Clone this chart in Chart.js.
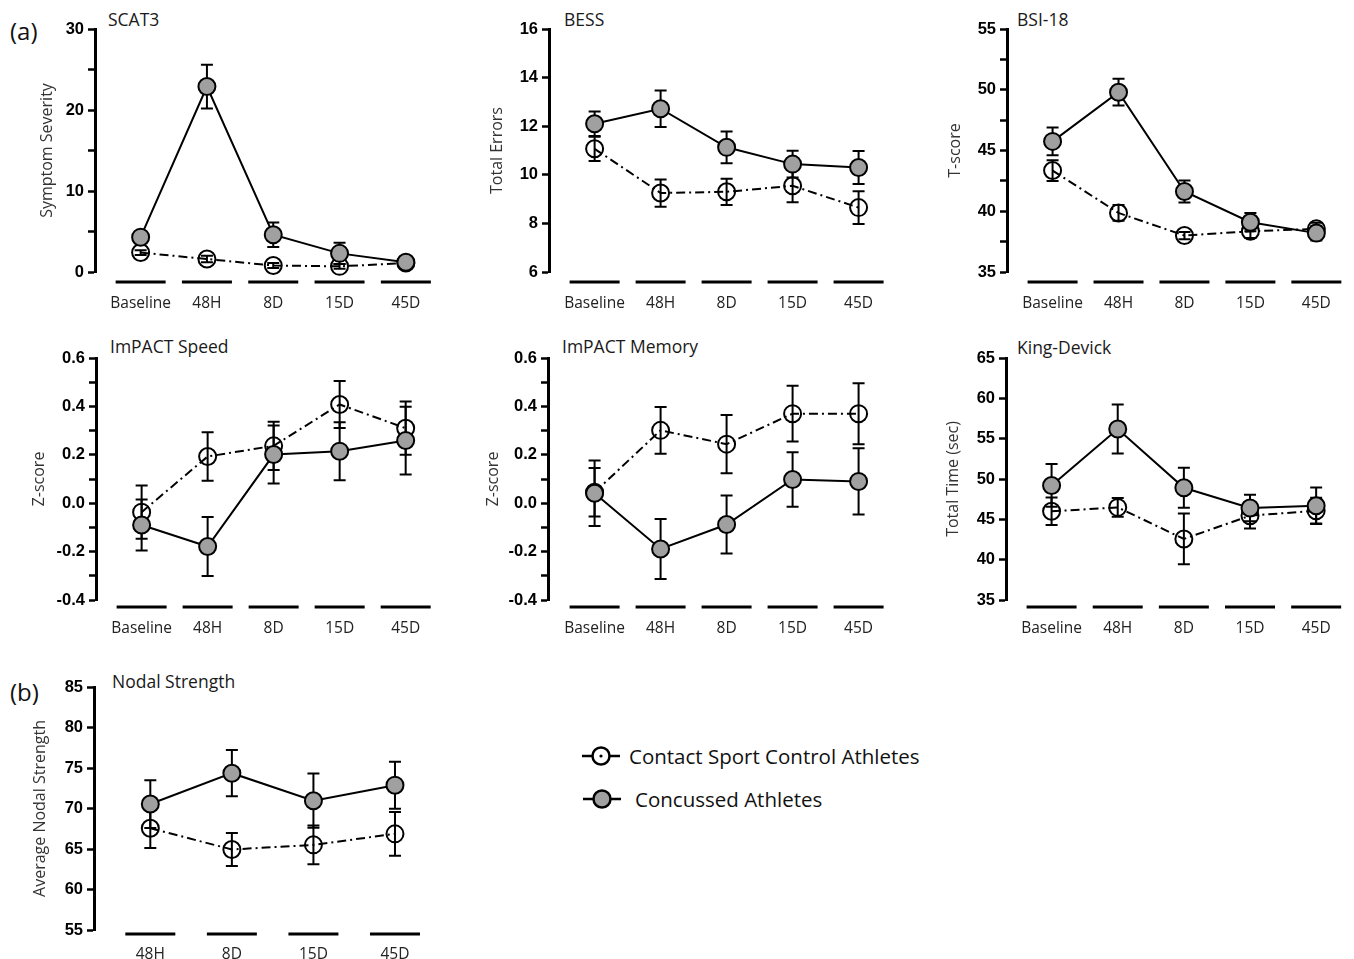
<!DOCTYPE html>
<html lang="en">
<head>
    <meta charset="UTF-8">
    <title>Concussion outcome measures</title>
    <script src="https://cdn.jsdelivr.net/npm/chart.js"></script>
    <style>
        body {
            margin: 0;
            background: #fff;
            font-family: 'Open Sans', sans-serif;
        }
        #figure {
            position: relative;
            width: 1354px;
            height: 959px;
            overflow: hidden;
        }
        #figure canvas {
            position: absolute;
        }
        .panel-title {
            position: absolute;
            font-size: 17.5px;
            color: #1a1a1a;
            line-height: 1;
            white-space: nowrap;
        }
        .part-label {
            position: absolute;
            font-size: 24px;
            color: #111;
            line-height: 1;
        }
        .legend-row {
            position: absolute;
            display: flex;
            align-items: center;
            font-size: 20.5px;
            color: #111;
            white-space: nowrap;
        }
        .legend-row svg {
            margin-right: 8px;
        }
    </style>
</head>
<body>
<div id="figure">
    <div class="part-label" style="left:10px; top:19px;">(a)</div>
    <div class="part-label" style="left:10px; top:680px;">(b)</div>

    <div class="panel-title" style="left:108px; top:11px;">SCAT3</div>
    <div class="panel-title" style="left:564px; top:11px;">BESS</div>
    <div class="panel-title" style="left:1017px; top:11px;">BSI-18</div>
    <div class="panel-title" style="left:110px; top:338px;">ImPACT Speed</div>
    <div class="panel-title" style="left:562px; top:338px;">ImPACT Memory</div>
    <div class="panel-title" style="left:1017px; top:339px;">King-Devick</div>
    <div class="panel-title" style="left:112px; top:673px;">Nodal Strength</div>

    <div class="legend-row" style="left:581px; top:742px;">
        <svg width="40" height="24" viewBox="0 0 40 24">
            <line x1="1" y1="12" x2="11" y2="12" stroke="#000" stroke-width="2.5"/>
            <line x1="29" y1="12" x2="39" y2="12" stroke="#000" stroke-width="2.5"/>
            <circle cx="20" cy="12" r="1.6" fill="#000"/>
            <circle cx="20" cy="12" r="8.5" fill="none" stroke="#000" stroke-width="2.5"/>
        </svg>
        <span>Contact Sport Control Athletes</span>
    </div>
    <div class="legend-row" style="left:582px; top:785px;">
        <svg width="40" height="24" viewBox="0 0 40 24">
            <line x1="1" y1="12" x2="39" y2="12" stroke="#000" stroke-width="2.5"/>
            <circle cx="20" cy="12" r="8.5" fill="#a0a0a0" stroke="#000" stroke-width="2.5"/>
        </svg>
        <span style="margin-left:5px;">Concussed Athletes</span>
    </div>
</div>

<script>
    // categories
    const timepoints = ['Baseline', '48H', '8D', '15D', '45D'];
    const nodalTimepoints = ['48H', '8D', '15D', '45D'];

    // SCAT3 symptom severity
    const scat3Control = [2.4, 1.6, 0.8, 0.7, 1.1];
    const scat3ControlErr = [0.3, 0.4, 0.3, 0.3, 0.2];
    const scat3Concussed = [4.3, 22.9, 4.6, 2.3, 1.2];
    const scat3ConcussedErr = [0.5, 2.7, 1.5, 1.3, 0.3];

    // BESS total errors
    const bessControl = [11.07, 9.25, 9.3, 9.55, 8.65];
    const bessControlErr = [0.5, 0.56, 0.54, 0.68, 0.67];
    const bessConcussed = [12.1, 12.72, 11.13, 10.44, 10.3];
    const bessConcussedErr = [0.5, 0.75, 0.65, 0.55, 0.68];

    // BSI-18 T-score
    const bsiControl = [43.35, 39.86, 38.0, 38.35, 38.55];
    const bsiControlErr = [0.85, 0.65, 0.3, 0.55, 0.5];
    const bsiConcussed = [45.75, 49.8, 41.63, 39.1, 38.2];
    const bsiConcussedErr = [1.15, 1.1, 0.9, 0.75, 0.6];

    // ImPACT speed z-score
    const speedControl = [-0.037, 0.193, 0.237, 0.408, 0.31];
    const speedControlErr = [0.11, 0.1, 0.1, 0.097, 0.11];
    const speedConcussed = [-0.09, -0.179, 0.201, 0.215, 0.259];
    const speedConcussedErr = [0.105, 0.122, 0.12, 0.12, 0.14];

    // ImPACT memory z-score
    const memoryControl = [0.045, 0.301, 0.244, 0.37, 0.37];
    const memoryControlErr = [0.1, 0.097, 0.12, 0.115, 0.126];
    const memoryConcussed = [0.041, -0.189, -0.088, 0.098, 0.09];
    const memoryConcussedErr = [0.135, 0.124, 0.12, 0.113, 0.137];

    // King-Devick total time (sec)
    const kdControl = [46.0, 46.48, 42.57, 45.45, 46.07];
    const kdControlErr = [1.7, 1.15, 3.15, 1.6, 1.6];
    const kdConcussed = [49.2, 56.2, 48.91, 46.4, 46.69];
    const kdConcussedErr = [2.65, 3.05, 2.47, 1.65, 2.26];

    // average nodal strength
    const nodalControl = [67.56, 64.94, 65.51, 66.87];
    const nodalControlErr = [2.45, 2.05, 2.4, 2.7];
    const nodalConcussed = [70.55, 74.36, 70.96, 72.88];
    const nodalConcussedErr = [2.95, 2.85, 3.35, 2.9];

    // y-axis ranges and tick steps
    const scat3Ticks = {min: 0, max: 30, step: 5, labelEvery: 10, digits: 0};
    const bessTicks = {min: 6, max: 16, step: 2, labelEvery: 2, digits: 0};
    const bsiTicks = {min: 35, max: 55, step: 2.5, labelEvery: 5, digits: 0};
    const zTicks = {min: -0.4, max: 0.6, step: 0.1, labelEvery: 0.2, digits: 1};
    const kdTicks = {min: 35, max: 65, step: 2.5, labelEvery: 5, digits: 0};
    const nodalTicks = {min: 55, max: 85, step: 5, labelEvery: 5, digits: 0};

    const concussedGrey = '#a0a0a0';

    // vertical SEM bars, drawn just before each dataset so markers cover them
    const errorBarPlugin = {
        id: 'errorBars',
        beforeDatasetDraw(chart, args) {
            const ds = chart.data.datasets[args.index];
            if (!ds.errors) return;
            const ctx = chart.ctx;
            const yScale = chart.scales.y;
            const meta = chart.getDatasetMeta(args.index);
            ctx.save();
            ctx.strokeStyle = '#000';
            ctx.lineWidth = 2;
            meta.data.forEach((pt, i) => {
                const v = ds.data[i].y;
                const e = ds.errors[i];
                const yHi = yScale.getPixelForValue(v + e);
                const yLo = yScale.getPixelForValue(v - e);
                ctx.beginPath();
                ctx.moveTo(pt.x, yHi);
                ctx.lineTo(pt.x, yLo);
                ctx.moveTo(pt.x - 6, yHi);
                ctx.lineTo(pt.x + 6, yHi);
                ctx.moveTo(pt.x - 6, yLo);
                ctx.lineTo(pt.x + 6, yLo);
                ctx.stroke();
            });
            ctx.restore();
        }
    };

    // short heavy bars under each time point (the broken x axis)
    const categoryBarPlugin = {
        id: 'categoryBars',
        afterDraw(chart, args, opts) {
            const xScale = chart.scales.x;
            const ctx = chart.ctx;
            const y = chart.chartArea.bottom + opts.offset;
            ctx.save();
            ctx.strokeStyle = '#000';
            ctx.lineWidth = 3;
            xScale.ticks.forEach(t => {
                const px = xScale.getPixelForValue(t.value);
                ctx.beginPath();
                ctx.moveTo(px - 25, y);
                ctx.lineTo(px + 25, y);
                ctx.stroke();
            });
            ctx.restore();
        }
    };

    function toPoints(values) {
        return values.map((v, i) => ({x: i, y: v}));
    }

    function makePanel(p) {
        const canvas = document.createElement('canvas');
        const height = p.padTop + p.plotH + p.xH;
        canvas.width = p.width;
        canvas.height = height;
        canvas.style.left = p.left + 'px';
        canvas.style.top = p.top + 'px';
        canvas.style.width = p.width + 'px';
        canvas.style.height = height + 'px';
        document.getElementById('figure').appendChild(canvas);

        const xMin = -(p.first - p.axisX) / p.spacing;
        const xMax = xMin + (p.width - p.axisX) / p.spacing;
        const t = p.ticks;

        new Chart(canvas, {
            type: 'line',
            data: {
                datasets: [
                    {
                        label: 'Concussed Athletes',
                        data: toPoints(p.concussed),
                        errors: p.concussedErr,
                        order: 0,
                        borderColor: '#000',
                        borderWidth: 2,
                        pointRadius: 8.5,
                        pointBorderWidth: 2,
                        pointBackgroundColor: concussedGrey,
                        pointBorderColor: '#000',
                        clip: false
                    },
                    {
                        label: 'Contact Sport Control Athletes',
                        data: toPoints(p.control),
                        errors: p.controlErr,
                        order: 1,
                        borderColor: '#000',
                        borderWidth: 2,
                        borderDash: [9, 4, 2, 4],
                        pointRadius: 8.5,
                        pointBorderWidth: 2,
                        pointBackgroundColor: 'rgba(0,0,0,0)',
                        pointBorderColor: '#000',
                        clip: false
                    }
                ]
            },
            options: {
                responsive: false,
                animation: false,
                layout: {padding: {top: p.padTop, left: 0, right: 0, bottom: 0}},
                scales: {
                    x: {
                        type: 'linear',
                        min: xMin,
                        max: xMax,
                        afterBuildTicks: s => {
                            s.ticks = p.labels.map((_, i) => ({value: i}));
                        },
                        afterFit: s => { s.height = p.xH; },
                        grid: {display: false, drawTicks: false},
                        border: {display: false},
                        ticks: {
                            autoSkip: false,
                            maxRotation: 0,
                            padding: p.labelPad,
                            color: '#222',
                            font: {family: "'Open Sans'", size: 15.5},
                            callback: v => p.labels[v] ?? ''
                        }
                    },
                    y: {
                        min: t.min,
                        max: t.max,
                        afterFit: s => { s.width = p.axisX; },
                        border: {display: true, color: '#000', width: 3},
                        grid: {
                            drawOnChartArea: false,
                            drawTicks: true,
                            tickLength: 7,
                            tickWidth: 2.5,
                            tickColor: '#000'
                        },
                        ticks: {
                            stepSize: t.step,
                            padding: 4,
                            color: '#000',
                            font: {family: "'Liberation Sans', Arial, sans-serif", size: 16.5, weight: 'bold'},
                            callback: v => {
                                const r = v / t.labelEvery;
                                if (Math.abs(r - Math.round(r)) > 1e-6) return '';
                                return (Math.round(r) * t.labelEvery).toFixed(t.digits);
                            }
                        },
                        title: {
                            display: true,
                            text: p.yTitle,
                            color: '#333',
                            font: {family: "'Open Sans'", size: 16},
                            padding: {top: p.titleX - 9.6, bottom: 0}
                        }
                    }
                },
                plugins: {
                    legend: {display: false},
                    tooltip: {enabled: false},
                    categoryBars: {offset: p.barOffset}
                }
            },
            plugins: [errorBarPlugin, categoryBarPlugin]
        });
    }

    const row1 = {top: 0, padTop: 29, plotH: 243, xH: 48, labelPad: 22, barOffset: 10};
    const row2 = {top: 325, padTop: 33, plotH: 242, xH: 40, labelPad: 19, barOffset: 7};
    const row3 = {top: 650, padTop: 37, plotH: 243, xH: 29, labelPad: 15, barOffset: 4};

    makePanel({...row1, left: 0, width: 455, axisX: 95, first: 142, spacing: 68.3, titleX: 47,
        labels: timepoints, yTitle: 'Symptom Severity', ticks: scat3Ticks,
        control: scat3Control, controlErr: scat3ControlErr, concussed: scat3Concussed, concussedErr: scat3ConcussedErr});
    makePanel({...row1, left: 455, width: 450, axisX: 94, first: 141, spacing: 68, titleX: 42,
        labels: timepoints, yTitle: 'Total Errors', ticks: bessTicks,
        control: bessControl, controlErr: bessControlErr, concussed: bessConcussed, concussedErr: bessConcussedErr});
    makePanel({...row1, left: 905, width: 449, axisX: 102, first: 149, spacing: 68, titleX: 50,
        labels: timepoints, yTitle: 'T-score', ticks: bsiTicks,
        control: bsiControl, controlErr: bsiControlErr, concussed: bsiConcussed, concussedErr: bsiConcussedErr});

    makePanel({...row2, left: 0, width: 455, axisX: 96, first: 143, spacing: 68, titleX: 39,
        labels: timepoints, yTitle: 'Z-score', ticks: zTicks,
        control: speedControl, controlErr: speedControlErr, concussed: speedConcussed, concussedErr: speedConcussedErr});
    makePanel({...row2, left: 455, width: 450, axisX: 93, first: 141, spacing: 68, titleX: 38,
        labels: timepoints, yTitle: 'Z-score', ticks: zTicks,
        control: memoryControl, controlErr: memoryControlErr, concussed: memoryConcussed, concussedErr: memoryConcussedErr});
    makePanel({...row2, left: 905, width: 449, axisX: 101, first: 148, spacing: 68.2, titleX: 48,
        labels: timepoints, yTitle: 'Total Time (sec)', ticks: kdTicks,
        control: kdControl, controlErr: kdControlErr, concussed: kdConcussed, concussedErr: kdConcussedErr});

    makePanel({...row3, left: 0, width: 455, axisX: 94, first: 152, spacing: 84, titleX: 40,
        labels: nodalTimepoints, yTitle: 'Average Nodal Strength', ticks: nodalTicks,
        control: nodalControl, controlErr: nodalControlErr, concussed: nodalConcussed, concussedErr: nodalConcussedErr});
</script>
</body>
</html>
